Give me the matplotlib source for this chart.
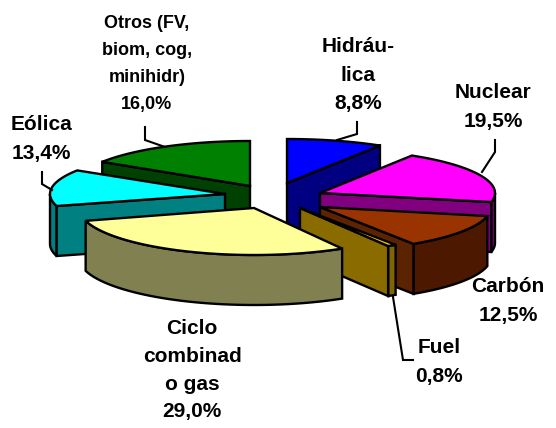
import numpy as np
import matplotlib
matplotlib.use('Agg')
import matplotlib.pyplot as plt

plt.rcParams['font.family'] = ['Liberation Sans', 'DejaVu Sans']

# shares in percent, clockwise from 12 o'clock
names = ['Hidráu-\nlica', 'Nuclear', 'Carbón', 'Fuel', 'Ciclo\ncombinad\no gas',
         'Eólica', 'Otros (FV,\nbiom, cog,\nminihidr)']
shares = [8.8, 19.5, 12.5, 0.8, 29.0, 13.4, 16.0]
value_labels = ['8,8%', '19,5%', '12,5%', '0,8%', '29,0%', '13,4%', '16,0%']

top_colors = ['#0000FF', '#FF00FF', '#993300', '#FFCC00', '#FFFF99', '#00FFFF', '#008000']
wall_colors = ['#000080', '#800080', '#4C1900', '#806600', '#808050', '#008080', '#004000']
face_colors = ['#000080', '#800080', '#5C2300', '#8A6B00', '#808050', '#008080', '#004000']

# exploded slice centres in pixels (3D look of the original)
apex_x = [287, 320, 320, 300, 254, 225, 250]
apex_y = [183, 193, 207, 208, 208, 194, 186]
rad_x = [177, 175, 171, 175, 175, 175, 175]
rad_y = [44, 44, 44, 44, 47, 44, 45]
depth = 50
draw_order = [6, 0, 5, 1, 2, 3, 4]

label_pos = [(358, 75), (493, 107), (508, 301), (439, 362), (192, 370), (41, 139), (147, 64)]
label_size = [15, 15, 15, 15, 15, 15, 13]
label_spacing = [1.65, 1.7, 1.65, 1.7, 1.6, 1.7, 1.75]
leaders = [
    ([357, 357, 337], [122, 134, 140]),
    ([495, 495, 482], [140, 152, 172]),
    ([393, 403, 413], [297, 360, 360]),
    ([145, 145, 165], [127, 140, 147]),
    ([42, 42, 52], [172, 184, 190]),
]


def arc(i, a0, a1):
    t = np.radians(np.linspace(a0, a1, 60))
    return apex_x[i] + rad_x[i] * np.sin(t), apex_y[i] - rad_y[i] * np.cos(t)


fig = plt.figure(figsize=(5.56, 4.28), dpi=100)
ax = fig.add_axes([0, 0, 1, 1])
ax.set_xlim(0, 556)
ax.set_ylim(428, 0)
ax.axis('off')

edges = np.cumsum([0] + shares) / sum(shares) * 360
line = dict(edgecolor='black', linewidth=1.7, joinstyle='miter')

for i in draw_order:
    a0, a1 = edges[i], edges[i + 1]
    ax_, ay_ = apex_x[i], apex_y[i]

    # outer wall, only the part that faces the viewer
    w0, w1 = max(a0, 90), min(a1, 270)
    if w1 > w0:
        x, y = arc(i, w0, w1)
        ax.fill(np.r_[x, x[::-1]], np.r_[y, y[::-1] + depth], color=wall_colors[i], **line)

    # cut face: end side on the right half, start side on the left half
    if a1 <= 180:
        fx, fy = arc(i, a1, a1)
    elif a0 >= 180:
        fx, fy = arc(i, a0, a0)
    else:
        fx = None
    if fx is not None:
        ax.fill([ax_, fx[0], fx[0], ax_], [ay_, fy[0], fy[0] + depth, ay_ + depth],
                color=face_colors[i], **line)

    x, y = arc(i, a0, a1)
    ax.fill(np.r_[ax_, x], np.r_[ay_, y], color=top_colors[i], **line)

for lx, ly in leaders:
    ax.plot(lx, ly, color='black', linewidth=1.5, solid_joinstyle='miter')

for i in range(len(names)):
    ax.text(label_pos[i][0], label_pos[i][1], names[i] + '\n' + value_labels[i],
            ha='center', va='center', fontweight='bold', fontsize=label_size[i],
            linespacing=label_spacing[i], color='black')

fig.savefig('out.png', dpi=100)
